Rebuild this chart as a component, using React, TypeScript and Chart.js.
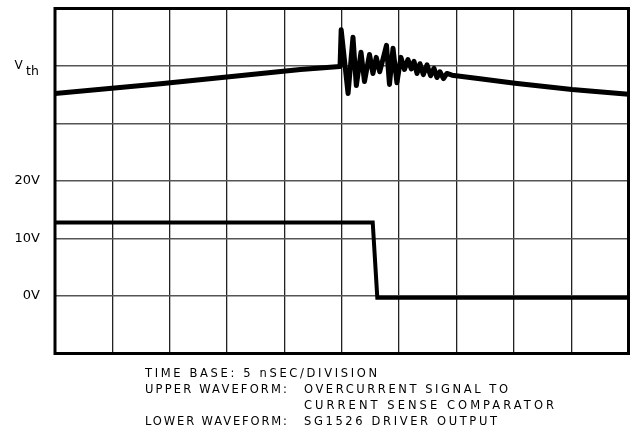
import React, { useEffect, useLayoutEffect, useRef } from "react";
import { Chart, registerables } from "chart.js";

Chart.register(...registerables);

// Time axis: 10 divisions at 5 ns/division
const timeTicksNs = [0, 5, 10, 15, 20, 25, 30, 35, 40, 45, 50];

// Volt axis for the driver output (one division = 10 V)
const voltTicks = [-10, 0, 10, 20, 30, 40, 50];
const voltTickLabels = ["", "0V", "10V", "20V", "", "", ""];
const vthLevel = 40; // row where the comparator threshold sits

// Upper waveform: overcurrent signal, in divisions relative to Vth
const upperTimeNs = [
  0, 9.2, 21.4, 24.85, 24.95, 25.55, 25.98, 26.27, 26.68, 26.98, 27.42, 27.72,
  28.01, 28.31, 28.9, 29.16, 29.47, 29.81, 30.16, 30.47, 30.77, 31.06, 31.3,
  31.56, 31.82, 32.11, 32.43, 32.75, 33.04, 33.3, 33.56, 33.87, 34.17, 34.61,
  37.05, 40.1, 45.07, 50,
];
const upperLevelDiv = [
  -0.48, -0.31, -0.06, -0.01, 0.63, -0.48, 0.5, -0.34, 0.24, -0.27, 0.2, -0.13,
  0.15, -0.1, 0.36, -0.32, 0.31, -0.29, 0.15, -0.06, 0.11, -0.05, 0.08, -0.13,
  0.04, -0.15, 0.02, -0.17, -0.04, -0.2, -0.1, -0.22, -0.13, -0.16, -0.22,
  -0.3, -0.41, -0.49,
];

// Lower waveform: SG1526 driver output in volts
const lowerTimeNs = [0, 27.7, 28.1, 50];
const lowerVolts = [12.8, 12.8, -0.3, -0.3];

// Caption text
const captionText = [
  "TIME BASE: 5 nSEC/DIVISION",
  "UPPER WAVEFORM:",
  "OVERCURRENT SIGNAL TO",
  "CURRENT SENSE COMPARATOR",
  "LOWER WAVEFORM:",
  "SG1526 DRIVER OUTPUT",
];
// Caption layout: left, top, run width (px)
const captionBoxes: [number, number, number][] = [
  [145, 366.4, 232],
  [145, 382.3, 142],
  [304, 382.3, 204],
  [304, 398.2, 250],
  [145, 414.1, 142],
  [304, 414.1, 193],
];

const FONT = "'DejaVu Sans', 'Liberation Sans', sans-serif";

const frameAndVth = {
  id: "frameAndVth",
  afterDraw(chart: any) {
    const { ctx, chartArea } = chart;
    const yScale = chart.scales.y;
    ctx.save();
    ctx.strokeStyle = "#000";
    ctx.lineWidth = 3;
    ctx.strokeRect(
      chartArea.left,
      chartArea.top,
      chartArea.right - chartArea.left,
      chartArea.bottom - chartArea.top
    );
    // V with subscript "th"
    const y = yScale.getPixelForValue(vthLevel);
    ctx.fillStyle = "#000";
    ctx.textAlign = "left";
    ctx.textBaseline = "alphabetic";
    ctx.font = `12px ${FONT}`;
    ctx.fillText("V", 14.5, y + 2.5);
    ctx.font = `12.5px ${FONT}`;
    ctx.fillText("th", 26, y + 9);
    ctx.restore();
  },
};

export default function App() {
  const canvasRef = useRef<HTMLCanvasElement | null>(null);
  const captionRefs = useRef<(HTMLDivElement | null)[]>([]);

  // Spread each caption run across its width
  useLayoutEffect(() => {
    captionRefs.current.forEach((el, i) => {
      if (!el) return;
      el.style.letterSpacing = "0px";
      const natural = el.getBoundingClientRect().width;
      const n = captionText[i].length;
      const spacing = (captionBoxes[i][2] - natural) / Math.max(1, n - 1);
      el.style.letterSpacing = `${spacing}px`;
    });
  }, []);

  useEffect(() => {
    const canvas = canvasRef.current;
    if (!canvas) return;
    const chart = new Chart(canvas, {
      type: "scatter",
      data: {
        datasets: [
          {
            label: "Upper waveform",
            data: upperTimeNs.map((t, i) => ({ x: t, y: upperLevelDiv[i] })),
            yAxisID: "yu",
            showLine: true,
            borderColor: "#000",
            borderWidth: 5,
            borderJoinStyle: "round",
            pointRadius: 0,
            tension: 0,
          },
          {
            label: "Lower waveform",
            data: lowerTimeNs.map((t, i) => ({ x: t, y: lowerVolts[i] })),
            yAxisID: "y",
            showLine: true,
            borderColor: "#000",
            borderWidth: 4,
            borderJoinStyle: "miter",
            pointRadius: 0,
            tension: 0,
          },
        ],
      },
      options: {
        animation: false,
        responsive: false,
        maintainAspectRatio: false,
        layout: { padding: { top: 8.5, right: 2.5, bottom: 82.5, left: 0 } },
        plugins: {
          legend: { display: false },
          tooltip: { enabled: false },
        },
        scales: {
          x: {
            type: "linear",
            min: 0,
            max: 50,
            afterBuildTicks: (s: any) => {
              s.ticks = timeTicksNs.map((v) => ({ value: v }));
            },
            ticks: { display: false },
            border: { display: false },
            grid: { color: "#222", lineWidth: 1.3, drawTicks: false },
            afterFit: (s: any) => {
              s.height = 0;
              s.paddingLeft = 0;
              s.paddingRight = 0;
            },
          },
          y: {
            type: "linear",
            position: "left",
            min: -10,
            max: 50,
            afterBuildTicks: (s: any) => {
              s.ticks = voltTicks.map((v) => ({ value: v }));
            },
            ticks: {
              padding: 15,
              color: "#000",
              font: { family: FONT, size: 13 },
              callback: (v: any) => voltTickLabels[voltTicks.indexOf(Number(v))] ?? "",
            },
            border: { display: false },
            grid: { color: "#555", lineWidth: 1.6, drawTicks: false },
            afterFit: (s: any) => {
              s.width = 55;
              s.paddingTop = 0;
              s.paddingBottom = 0;
            },
          },
          yu: {
            type: "linear",
            display: false,
            min: -5,
            max: 1,
          },
        },
      },
      plugins: [frameAndVth],
    });
    return () => chart.destroy();
  }, []);

  return (
    <div style={{ position: "absolute", left: 0, top: 0, width: 631, height: 436, background: "#fff" }}>
      <canvas ref={canvasRef} width={631} height={436} style={{ display: "block" }} />
      {captionText.map((text, i) => (
        <div
          key={i}
          ref={(el) => {
            captionRefs.current[i] = el;
          }}
          style={{
            position: "absolute",
            left: captionBoxes[i][0],
            top: captionBoxes[i][1],
            fontFamily: FONT,
            fontSize: "11.5px",
            lineHeight: "15.9px",
            color: "#000",
            whiteSpace: "pre",
          }}
        >
          {text}
        </div>
      ))}
    </div>
  );
}
